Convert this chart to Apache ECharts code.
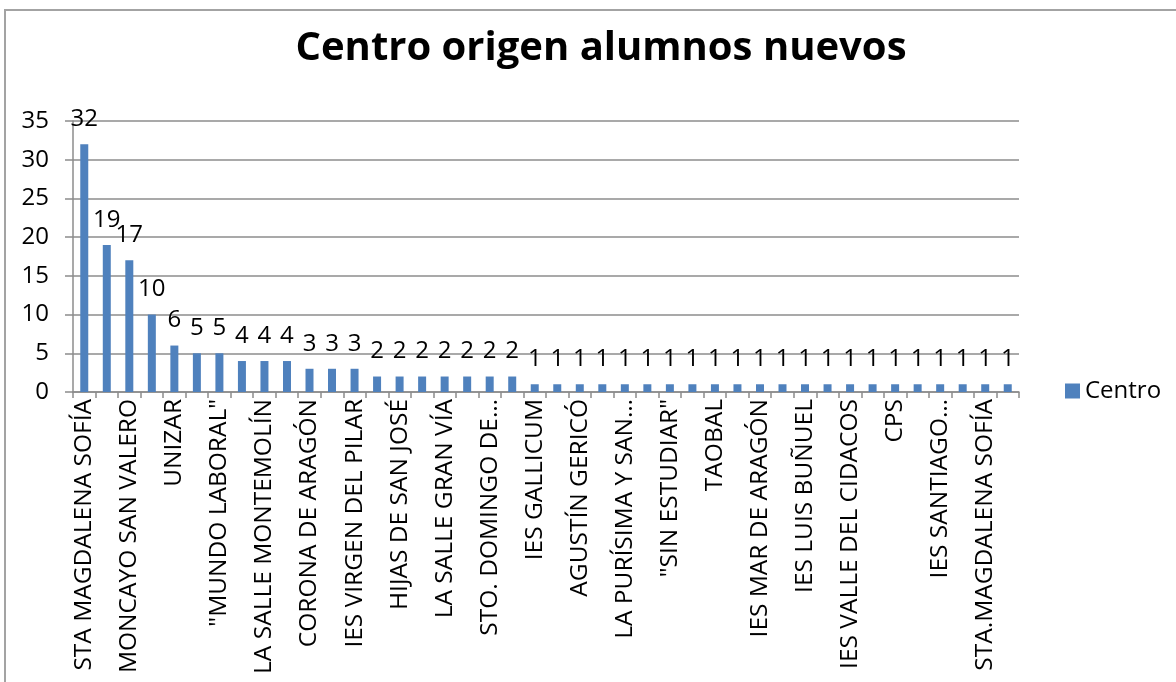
<!doctype html>
<html>
<head>
    <meta charset="utf-8">
    <title>Centro origen alumnos nuevos</title>
    <script src="https://cdn.jsdelivr.net/npm/echarts@6/dist/echarts.min.js"></script>
    <style>
        html, body {
            margin: 0;
            padding: 0;
            background: #fff;
        }

        #main {
            width: 1176px;
            height: 682px;
        }
    </style>
</head>
<body>
    <div id="main"></div>
    <script type="text/javascript">
        // centros (solo se ve una etiqueta de cada dos en el eje)
        var centros = [
            'STA MAGDALENA SOFÍA', 'OTRO CENTRO 1',
            'MONCAYO SAN VALERO', 'OTRO CENTRO 2',
            'UNIZAR', 'OTRO CENTRO 3',
            '"MUNDO LABORAL"', 'OTRO CENTRO 4',
            'LA SALLE MONTEMOLÍN', 'OTRO CENTRO 5',
            'CORONA DE ARAGÓN', 'OTRO CENTRO 6',
            'IES VIRGEN DEL PILAR', 'OTRO CENTRO 7',
            'HIJAS DE SAN JOSÉ', 'OTRO CENTRO 8',
            'LA SALLE GRAN VÍA', 'OTRO CENTRO 9',
            'STO. DOMINGO DE…', 'OTRO CENTRO 10',
            'IES GALLICUM', 'OTRO CENTRO 11',
            'AGUSTÍN GERICÓ', 'OTRO CENTRO 12',
            'LA PURÍSIMA Y SAN…', 'OTRO CENTRO 13',
            '"SIN ESTUDIAR"', 'OTRO CENTRO 14',
            'TAOBAL', 'OTRO CENTRO 15',
            'IES MAR DE ARAGÓN', 'OTRO CENTRO 16',
            'IES LUIS BUÑUEL', 'OTRO CENTRO 17',
            'IES VALLE DEL CIDACOS', 'OTRO CENTRO 18',
            'CPS', 'OTRO CENTRO 19',
            'IES SANTIAGO…', 'OTRO CENTRO 20',
            'STA.MAGDALENA SOFÍA', 'OTRO CENTRO 21'
        ];
        // alumnos nuevos por centro
        var alumnos = [
            32, 19, 17, 10, 6, 5, 5, 4, 4, 4,
            3, 3, 3, 2, 2, 2, 2, 2, 2, 2,
            1, 1, 1, 1, 1, 1, 1, 1, 1, 1,
            1, 1, 1, 1, 1, 1, 1, 1, 1, 1,
            1, 1
        ];
        var ejeMax = 35;
        var ejePaso = 5;

        var fuente = '"Open Sans", "DejaVu Sans", sans-serif';
        var gris = '#8c8c8c';

        var myChart = echarts.init(document.getElementById('main'));
        var option = {
            animation: false,
            textStyle: { fontFamily: fuente },
            title: {
                text: 'Centro origen alumnos nuevos',
                left: 596,
                top: 24,
                textAlign: 'center',
                textStyle: {
                    fontFamily: fuente,
                    fontSize: 40,
                    fontWeight: 'bold',
                    color: '#000'
                }
            },
            legend: {
                data: ['Centro'],
                left: 1060,
                top: 374,
                itemWidth: 15,
                itemHeight: 15,
                itemGap: 6,
                icon: 'rect',
                textStyle: { fontSize: 24, color: '#000', fontFamily: fuente }
            },
            grid: {
                left: 73,
                right: 157,
                top: 121,
                bottom: 290
            },
            xAxis: {
                type: 'category',
                data: centros,
                axisLine: { lineStyle: { color: gris, width: 1.5 } },
                axisTick: { show: true, interval: 0, length: 6, lineStyle: { color: gris, width: 1.5 } },
                axisLabel: {
                    interval: 1,
                    rotate: 90,
                    margin: 7,
                    fontSize: 24.5,
                    color: '#000',
                    fontFamily: fuente
                }
            },
            yAxis: {
                type: 'value',
                min: 0,
                max: ejeMax,
                interval: ejePaso,
                axisLine: { show: true, lineStyle: { color: gris, width: 1.5 } },
                axisTick: { show: true, length: 8, lineStyle: { color: gris, width: 1.5 } },
                splitLine: { lineStyle: { color: gris, width: 1.5 } },
                axisLabel: { margin: 24, fontSize: 24, color: '#000', fontFamily: fuente }
            },
            series: [
                {
                    name: 'Centro',
                    type: 'bar',
                    data: alumnos,
                    barWidth: 8,
                    itemStyle: { color: '#4f81bd' },
                    label: {
                        show: true,
                        position: 'top',
                        distance: 13,
                        fontSize: 24,
                        color: '#000',
                        fontFamily: fuente
                    }
                }
            ],
            graphic: [
                {
                    type: 'rect',
                    silent: true,
                    shape: { x: 5, y: 10, width: 1400, height: 900 },
                    style: { fill: 'none', stroke: '#a3a3a3', lineWidth: 2 }
                }
            ]
        };

        myChart.setOption(option);
    </script>
</body>
</html>
